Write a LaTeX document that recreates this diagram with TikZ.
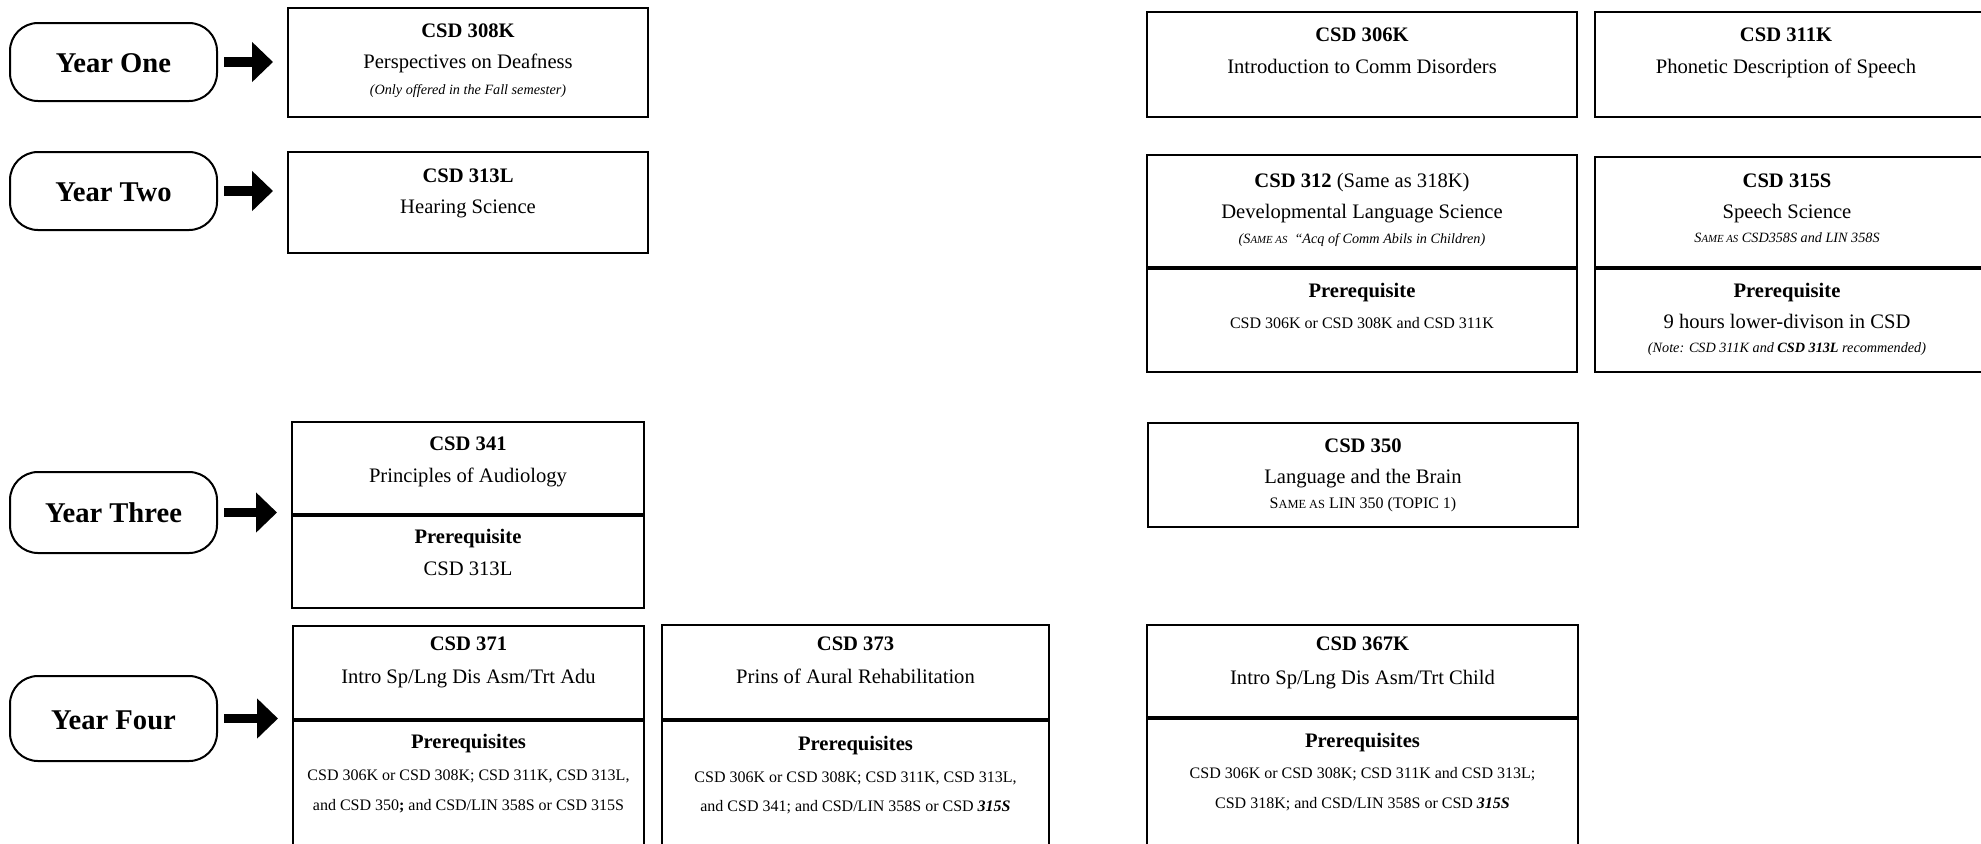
\documentclass[tikz,border=0pt]{standalone}
\usepackage{fontspec}
\setmainfont{Liberation Serif}
\usetikzlibrary{arrows.meta,fit}
\newcommand\fT{\fontsize{10.3}{12}\selectfont}
\newcommand\fP{\fontsize{8}{9.6}\selectfont}
\newcommand\fN{\fontsize{7.1}{8.5}\selectfont}
\newcommand\fY{\fontsize{14.3}{16}\selectfont}
\newcommand\SameAs[1]{S{\fontsize{#1}{#1}\selectfont AME AS}}
\begin{document}
\begin{tikzpicture}[x=0.5pt,y=-0.5pt,
  box/.style={draw=black,line width=1.35pt,inner sep=0pt,outer sep=0pt,fill=none},
  pill/.style={draw=black,line width=1pt,rounded corners=14pt,inner sep=0pt,outer sep=0pt,fill=none},
  txt/.style={inner sep=0pt,outer sep=0pt,anchor=base,align=center},
  yarrow/.style={line width=4.6pt,-{Triangle[length=10.5pt,width=19.5pt]},shorten <=3.5pt,shorten >=7.5pt}]
\useasboundingbox (0,0) rectangle (1981,843);
\clip (0,0) rectangle (1981,843);
% year pills
\node[pill,fit={(10,23) (217,101)}] (y1) {};
\node[pill,fit={(10,152) (217,230)}] (y2) {};
\node[pill,fit={(10,472) (217,553)}] (y3) {};
\node[pill,fit={(10,676) (217,761)}] (y4) {};
\node[txt] (ty1) at (113.5,72) {\fY\bfseries Year One};
\node[txt] (ty2) at (113.5,201) {\fY\bfseries Year Two};
\node[txt] (ty3) at (113.5,522) {\fY\bfseries Year Three};
\node[txt] (ty4) at (113.5,729) {\fY\bfseries Year Four};
% boxes
\node[box,fit={(288,8) (648,117)}] (b308) {};
\node[box,fit={(288,152) (648,253)}] (b313) {};
\node[box,fit={(1147,12) (1577,117)}] (b306) {};
\node[box,fit={(1595,12) (1984,117)}] (b311) {};
\node[box,fit={(1147,155) (1577,267)}] (b312a) {};
\node[box,fit={(1147,269) (1577,372)}] (b312b) {};
\node[box,fit={(1595,157) (1984,267)}] (b315a) {};
\node[box,fit={(1595,269) (1984,372)}] (b315b) {};
\node[box,fit={(292,422) (644,514)}] (b341a) {};
\node[box,fit={(292,516) (644,608)}] (b341b) {};
\node[box,fit={(1148,423) (1578,527)}] (b350) {};
\node[box,fit={(293,626) (644,719)}] (b371a) {};
\node[box,fit={(293,721) (644,870)}] (b371b) {};
\node[box,fit={(662,625) (1049,719)}] (b373a) {};
\node[box,fit={(662,721) (1049,870)}] (b373b) {};
\node[box,fit={(1147,625) (1578,717)}] (b367a) {};
\node[box,fit={(1147,719) (1578,870)}] (b367b) {};
% arrows
\draw[yarrow] (y1.east) -- (y1.east -| b308.west);
\draw[yarrow] (y2.east) -- (y2.east -| b313.west);
\draw[yarrow] (y3.east) -- (y3.east -| b341a.west);
\draw[yarrow] (y4.east) -- (y4.east -| b371a.west);
% texts
\node[txt] (t308a) at (468,37) {\fT\bfseries CSD 308K};
\node[txt] (t308b) at (468,68) {\fT Perspectives on Deafness};
\node[txt] (t308c) at (468,94) {\fN\itshape (Only offered in the Fall semester)};
\node[txt] (t313a) at (468,182) {\fT\bfseries CSD 313L};
\node[txt] (t313b) at (468,213) {\fT Hearing Science};
\node[txt] (t306a) at (1362,41) {\fT\bfseries CSD 306K};
\node[txt] (t306b) at (1362,73) {\fT Introduction to Comm Disorders};
\node[txt] (t311a) at (1786,41) {\fT\bfseries CSD 311K};
\node[txt] (t311b) at (1786,73) {\fT Phonetic Description of Speech};
\node[txt] (t312a) at (1362,187) {\fT\textbf{CSD 312} (Same as 318K)};
\node[txt] (t312b) at (1362,218) {\fT Developmental Language Science};
\node[txt] (t312c) at (1362,243) {\fN\itshape (\SameAs{5.4} \ “Acq of Comm Abils in Children)};
\node[txt] (t312d) at (1362,297) {\fT\bfseries Prerequisite};
\node[txt] (t312e) at (1362,328) {\fP CSD 306K or CSD 308K and CSD 311K};
\node[txt] (t315a) at (1787,187) {\fT\bfseries CSD 315S};
\node[txt] (t315b) at (1787,218) {\fT Speech Science};
\node[txt] (t315c) at (1787,242) {\fN\itshape \SameAs{5.4} CSD358S and LIN 358S};
\node[txt] (t315d) at (1787,297) {\fT\bfseries Prerequisite};
\node[txt] (t315e) at (1787,328) {\fT 9 hours lower-divison in CSD};
\node[txt] (t315f) at (1787,352) {\fN\itshape (Note: CSD 311K and \textbf{CSD 313L} recommended)};
\node[txt] (t341a) at (468,450) {\fT\bfseries CSD 341};
\node[txt] (t341b) at (468,482) {\fT Principles of Audiology};
\node[txt] (t341c) at (468,543) {\fT\bfseries Prerequisite};
\node[txt] (t341d) at (468,575) {\fT CSD 313L};
\node[txt] (t350a) at (1363,452) {\fT\bfseries CSD 350};
\node[txt] (t350b) at (1363,483) {\fT Language and the Brain};
\node[txt] (t350c) at (1363,508) {\fP\SameAs{6.2} LIN 350 (TOPIC 1)};
\node[txt] (t371a) at (468.5,650) {\fT\bfseries CSD 371};
\node[txt] (t371b) at (468.5,683) {\fT Intro Sp/Lng Dis Asm/Trt Adu};
\node[txt] (t371c) at (468.5,748) {\fT\bfseries Prerequisites};
\node[txt] (t371d) at (468.5,780) {\fP CSD 306K or CSD 308K; CSD 311K, CSD 313L,};
\node[txt] (t371e) at (468.5,810) {\fP and CSD 350\textbf{;} and CSD/LIN 358S or CSD 315S};
\node[txt] (t373a) at (855.5,650) {\fT\bfseries CSD 373};
\node[txt] (t373b) at (855.5,683) {\fT Prins of Aural Rehabilitation};
\node[txt] (t373c) at (855.5,750) {\fT\bfseries Prerequisites};
\node[txt] (t373d) at (855.5,782) {\fP CSD 306K or CSD 308K; CSD 311K, CSD 313L,};
\node[txt] (t373e) at (855.5,811) {\fP and CSD 341; and CSD/LIN 358S or CSD \textbf{\textit{315S}}};
\node[txt] (t367a) at (1362.5,650) {\fT\bfseries CSD 367K};
\node[txt] (t367b) at (1362.5,684) {\fT Intro Sp/Lng Dis Asm/Trt Child};
\node[txt] (t367c) at (1362.5,747) {\fT\bfseries Prerequisites};
\node[txt] (t367d) at (1362.5,778) {\fP CSD 306K or CSD 308K; CSD 311K and CSD 313L;};
\node[txt] (t367e) at (1362.5,808) {\fP CSD 318K; and CSD/LIN 358S or CSD \textbf{\textit{315S}}};
\end{tikzpicture}
\end{document}
